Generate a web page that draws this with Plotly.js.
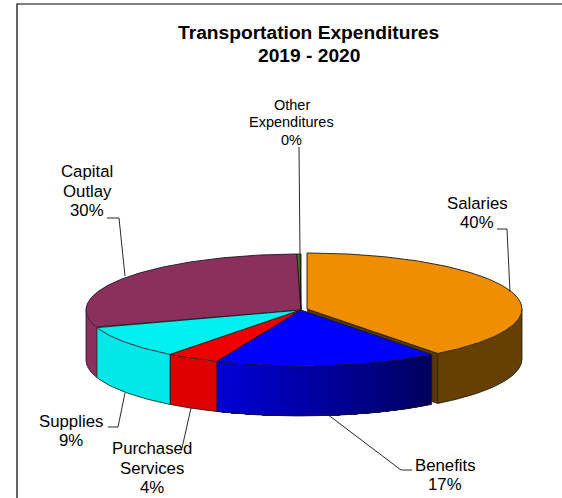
<!DOCTYPE html>
<html><head><meta charset="utf-8">
<script src="https://cdn.plot.ly/plotly-3.0.1.min.js"></script>
<style>html,body{margin:0;padding:0;background:#fff}</style></head>
<body><div id="chart" style="width:562px;height:498px"></div>
<script>
const categories = ["Salaries","Benefits","Purchased Services","Supplies","Capital Outlay","Other Expenditures"];
const shares = [39.6,16.8,4.0,9.5,29.8,0.3];
const shownPercent = ["40%","17%","4%","9%","30%","0%"];
const topColors = ["#ee8e00","#0000ff","#ee0000","#00f0f0","#8b2f5d","#4d7f26"];
const wallLeft = [[102,64,0],[0,0,216],[221,0,0],[0,232,232],[139,47,94],[60,90,30]];
const wallRight = [[102,64,0],[0,0,92],[221,0,0],[0,232,232],[139,47,94],[60,90,30]];

const cx=301, cy=310, rx=215, ry=56, depth=50, explodeX=6, explodeY=-1;
const edge="#1a1a1a";
const total=shares.reduce((a,b)=>a+b,0);
let acc=0;
const slices=shares.map((v,i)=>{const a=acc/total*360; acc+=v; return {i,a0:a,a1:acc/total*360,
  ox:i===0?cx+explodeX:cx, oy:i===0?cy+explodeY:cy};});
const pt=(s,deg,dz=0)=>{const t=deg*Math.PI/180;return [s.ox+rx*Math.sin(t), s.oy-ry*Math.cos(t)+dz];};
const arc=(s,a,b,dz=0)=>{const n=Math.max(2,Math.ceil(Math.abs(b-a)*1.5));const o=[];for(let k=0;k<=n;k++)o.push(pt(s,a+(b-a)*k/n,dz));return o;};
const traces=[];
function poly(points,fill,line,w){
  traces.push({type:"scatter",mode:line?"lines":"none",x:points.map(p=>p[0]),y:points.map(p=>p[1]),
    fill:"toself",fillcolor:fill,line:{color:line||fill,width:w||0},hoverinfo:"skip",showlegend:false});
}
function path(points,color,w){
  traces.push({type:"scatter",mode:"lines",x:points.map(p=>p[0]),y:points.map(p=>p[1]),
    line:{color:color,width:w},hoverinfo:"skip",showlegend:false});
}
function wall(s){
  const a=Math.max(s.a0,90), b=Math.min(s.a1,270);
  if(b<=a) return;
  const l=wallLeft[s.i],r=wallRight[s.i];
  const flat=l.join()===r.join();
  const n=flat?1:Math.ceil((b-a)/1.5);
  // nested strips, each one painted over the last, so no seams show
  for(let k=0;k<n;k++){
    const u0=a+(b-a)*k/n;
    const f=n===1?1:(k+.5)/n;
    const c=l.map((v,j)=>Math.round(r[j]+(v-r[j])*f));
    poly(arc(s,u0,b).concat(arc(s,b,u0,depth)),"rgb("+c.join(",")+")");
  }
  path(arc(s,a,b,depth),edge,0.8);
}
const S=slices;
wall(S[4]); wall(S[3]);
const sal=S[0];
poly([[sal.ox,sal.oy],pt(sal,sal.a1),pt(sal,sal.a1,depth),[sal.ox,sal.oy+depth]],"rgb(90,56,0)",edge,0.7);
wall(S[0]);
wall(S[1]); wall(S[2]);
[[S[3],S[3].a0],[S[3],S[3].a1],[S[2],S[2].a1],[S[1],S[1].a1],[S[0],S[0].a1],[S[1],S[1].a0],[S[0],90],[S[4],270]]
  .forEach(([s,a])=>{path([pt(s,a),pt(s,a,depth)],edge,0.8);});
[4,3,2,1,5,0].forEach(i=>{
  const s=S[i];
  const pts=[[s.ox,s.oy]].concat(arc(s,s.a0,s.a1));
  pts.push([s.ox,s.oy]);
  poly(pts,topColors[i],edge,0.9);
});
const leaderX={Salaries:[510,507,497],Benefits:[327,401,412],PS:[191,182],Supplies:[125,118,108],Capital:[125,119,107],Other:[301,300,299]};
const leaderY={Salaries:[292,229,229],Benefits:[414,470,470],PS:[408,448],Supplies:[393,427,427],Capital:[276,218,218],Other:[310,254,147]};
Object.keys(leaderX).forEach(k=>{path(leaderX[k].map((x,j)=>[x,leaderY[k][j]]),"#111",0.9);});
const frameX=[17,17,562], frameY=[498,4,4];
path(frameX.map((x,j)=>[x,frameY[j]]),"#000",1.2);

const labelX=[477,445,152,71,87,291.5];
const labelY=[213,475,468,431,191,122];
const labelLines=[["Salaries"],["Benefits"],["Purchased","Services"],["Supplies"],["Capital","Outlay"],["Other","Expenditures"]];
const labelSize=[16.8,16.8,16.8,16.8,16.8,14.5];
const font="Liberation Sans, Arial, sans-serif";
const annotations=[];
function stack(lines,x,yc,size,gap,bold){
  lines.forEach((t,j)=>annotations.push({xref:"x",yref:"y",x:x,y:yc+(j-(lines.length-1)/2)*gap,showarrow:false,
    text:bold?"<b>"+t+"</b>":t,font:{family:font,size:size,color:"#000"}}));
}
categories.forEach((c,i)=>stack(labelLines[i].concat(shownPercent[i]),labelX[i],labelY[i],labelSize[i],i===5?17.5:19.8,false));
stack(["Transportation Expenditures","2019 - 2020"],308.5,43.5,19.2,23,true);

Plotly.newPlot("chart",traces,{
  width:562,height:498,margin:{l:0,r:0,t:0,b:0},paper_bgcolor:"#fff",plot_bgcolor:"#fff",showlegend:false,
  xaxis:{range:[0,562],visible:false,fixedrange:true},
  yaxis:{range:[498,0],visible:false,fixedrange:true},
  annotations:annotations
},{displayModeBar:false,staticPlot:true});
</script></body></html>
